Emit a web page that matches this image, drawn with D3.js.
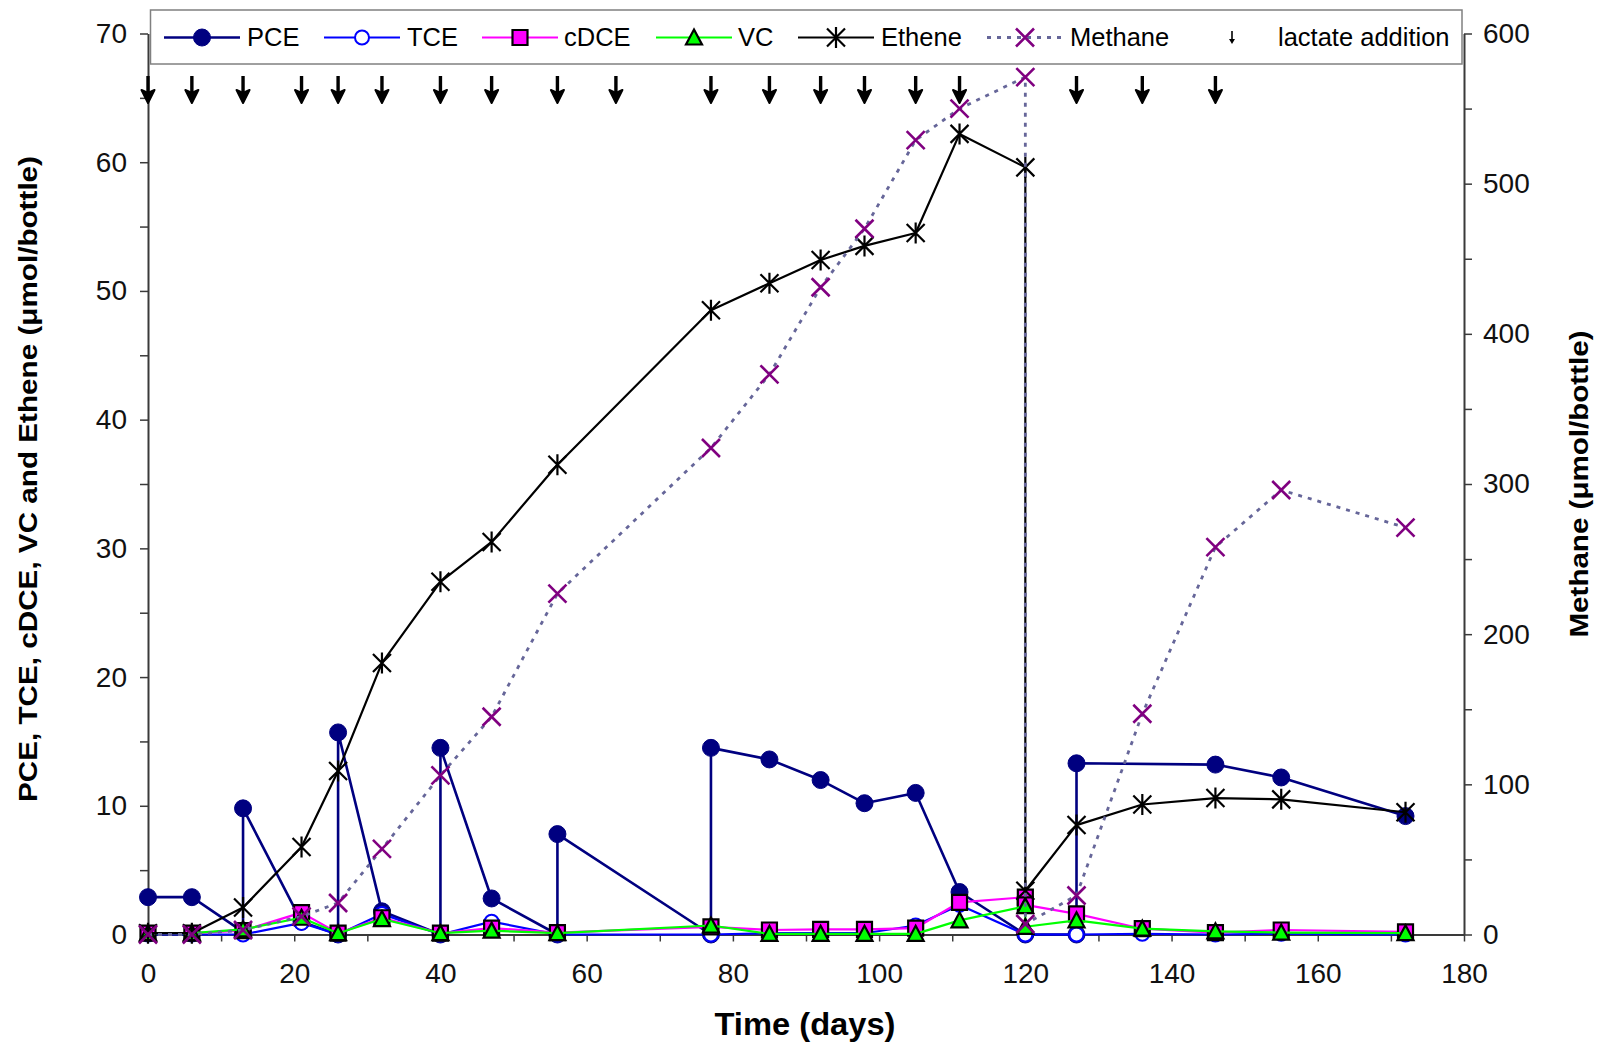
<!DOCTYPE html>
<html><head><meta charset="utf-8">
<script src="https://cdn.jsdelivr.net/npm/d3@7"></script>
<style>
html,body{margin:0;padding:0;background:#fff;}
svg{display:block;}
text{font-family:"Liberation Sans",Arial,Helvetica,sans-serif;}
</style></head>
<body>
<svg id="chart" width="1602" height="1047"></svg>
<script>
// ---------------- DATA ----------------
const pceDays   = [0,6,13,13,21,26,26,32,40,40,47,56,56,77,77,85,92,98,105,111,120,127,127,146,155,172];
const pceVals   = [2.9,2.9,0.2,9.8,1.0,0.0,15.7,1.8,0.0,14.5,2.8,0.0,7.8,0.0,14.5,13.6,12.0,10.2,11.0,3.3,0.0,0.0,13.3,13.2,12.2,9.2];

const tceDays   = [0,6,13,21,26,32,40,47,56,77,85,92,98,105,111,120,127,136,146,155,172];
const tceVals   = [0.0,0.0,0.0,0.9,0.0,1.6,0.0,1.0,0.0,0.0,0.1,0.1,0.1,0.7,2.3,0.0,0.0,0.05,0.0,0.05,0.0];

const dceDays   = [0,6,13,21,26,32,40,47,56,77,85,92,98,105,111,120,120,127,136,146,155,172];
const dceVals   = [0.1,0.1,0.3,1.7,0.1,1.3,0.1,0.5,0.15,0.6,0.35,0.4,0.4,0.5,2.5,2.9,2.3,1.6,0.45,0.15,0.35,0.2];

const vcDays    = [0,6,13,21,26,32,40,47,56,77,85,92,98,105,111,120,120,127,136,146,155,172];
const vcVals    = [0.1,0.1,0.4,1.3,0.1,1.2,0.1,0.3,0.1,0.7,0.05,0.05,0.05,0.05,1.1,2.2,0.6,1.1,0.45,0.25,0.15,0.1];

const ethDays   = [0,6,13,21,26,32,40,47,56,77,85,92,98,105,111,120,120,127,136,146,155,172];
const ethVals   = [0.1,0.1,2.1,6.8,12.7,21.1,27.4,30.5,36.5,48.5,50.6,52.4,53.5,54.5,62.2,59.6,3.4,8.5,10.1,10.6,10.5,9.5];

const ch4Days   = [0,6,13,21,26,32,40,47,56,77,85,92,98,105,111,120,120,127,136,146,155,172];
const ch4Vals   = [0,0,3,12,21,57,106,145,227,324,373,431,470,529,550,571,7,26,147,258,296,271];

const lactateDays = [0,6,13,21,26,32,40,47,56,64,77,85,92,98,105,111,127,136,146];

const xTicks      = [0,10,20,30,40,50,60,70,80,90,100,110,120,130,140,150,160,170,180];
const yLeftTicks  = [0,5,10,15,20,25,30,35,40,45,50,55,60,65,70];
const yRightTicks = [0,50,100,150,200,250,300,350,400,450,500,550,600];

const seriesNames = ["PCE","TCE","cDCE","VC","Ethene","Methane","lactate addition"];

// ---------------- LAYOUT ----------------
const svg = d3.select("#chart");
const L = 148, R = 1464, T = 33.5, B = 934.5;
const x  = d3.scaleLinear().domain([0,180]).range([L,R]);
const yL = d3.scaleLinear().domain([0,70]).range([B,T]);
const yR = d3.scaleLinear().domain([0,600]).range([B,T]);
const axisColor = "#3a3a3a";

function styleAxis(g){
  g.select(".domain").attr("stroke",axisColor).attr("stroke-width",2);
  g.selectAll(".tick line").attr("stroke",axisColor).attr("stroke-width",1.5);
  g.selectAll(".tick text").attr("fill","#111").attr("font-size",28)
    .attr("font-family",'"Liberation Sans",Arial,sans-serif');
}

svg.append("g").attr("transform",`translate(0,${B})`)
  .call(d3.axisBottom(x).tickValues(xTicks).tickFormat(d=>d%20===0?d:"").tickSize(7).tickSizeOuter(0).tickPadding(22))
  .call(styleAxis);
svg.append("g").attr("transform",`translate(${L},0)`)
  .call(d3.axisLeft(yL).tickValues(yLeftTicks).tickFormat(d=>d%10===0?d:"").tickSize(8).tickSizeOuter(0).tickPadding(13))
  .call(styleAxis);
svg.append("g").attr("transform",`translate(${R},0)`)
  .call(d3.axisRight(yR).tickValues(yRightTicks).tickFormat(d=>d%100===0?d:"").tickSize(8).tickSizeOuter(0).tickPadding(11))
  .call(styleAxis);

// axis titles
svg.append("text").attr("transform","translate(37,479) rotate(-90)")
  .attr("text-anchor","middle").attr("font-size",26).attr("font-weight","bold")
  .attr("textLength",646).attr("lengthAdjust","spacingAndGlyphs")
  .text("PCE, TCE, cDCE, VC and Ethene (\u03bcmol/bottle)");
svg.append("text").attr("transform","translate(1588,484) rotate(-90)")
  .attr("text-anchor","middle").attr("font-size",26).attr("font-weight","bold")
  .attr("textLength",307).attr("lengthAdjust","spacingAndGlyphs")
  .text("Methane (\u03bcmol/bottle)");
svg.append("text").attr("x",805).attr("y",1035)
  .attr("text-anchor","middle").attr("font-size",31).attr("font-weight","bold")
  .attr("textLength",181).attr("lengthAdjust","spacingAndGlyphs")
  .text("Time (days)");

// ---------------- MARKERS ----------------
const markerDefs = {
  circleFilled: g => g.append("circle").attr("r",8.5).attr("fill","#000080").attr("stroke","#000080").attr("stroke-width",1),
  circleOpen:   g => g.append("circle").attr("r",7).attr("fill","#fff").attr("stroke","#0000ff").attr("stroke-width",2),
  square:       g => g.append("path").attr("d","M-7.5,-7.5H7.5V7.5H-7.5Z").attr("fill","#ff00ff").attr("stroke","#000").attr("stroke-width",2.2),
  triangle:     g => g.append("path").attr("d","M0,-8L8,7L-8,7Z").attr("fill","#00ff00").attr("stroke","#000").attr("stroke-width",2.2).attr("stroke-linejoin","miter"),
  star:         g => g.append("path").attr("d","M-9,-9L9,9M-9,9L9,-9M0,-10.5V10.5").attr("fill","none").attr("stroke","#000").attr("stroke-width",2.2),
  cross:        g => g.append("path").attr("d","M-9,-9L9,9M-9,9L9,-9").attr("fill","none").attr("stroke","#800080").attr("stroke-width",2.6)
};

const series = [
  {name:seriesNames[0], days:pceDays, vals:pceVals, y:yL, color:"#000080", width:2.6, dash:null, marker:"circleFilled"},
  {name:seriesNames[1], days:tceDays, vals:tceVals, y:yL, color:"#0000ff", width:2.2, dash:null, marker:"circleOpen"},
  {name:seriesNames[2], days:dceDays, vals:dceVals, y:yL, color:"#ff00ff", width:2.2, dash:null, marker:"square"},
  {name:seriesNames[3], days:vcDays,  vals:vcVals,  y:yL, color:"#00ff00", width:2.2, dash:null, marker:"triangle"},
  {name:seriesNames[4], days:ethDays, vals:ethVals, y:yL, color:"#000000", width:2.2, dash:null, marker:"star"},
  {name:seriesNames[5], days:ch4Days, vals:ch4Vals, y:yR, color:"#666699", width:2.8, dash:"4,6", marker:"cross"}
];

const plot = svg.append("g");
series.forEach(s=>{
  const pts = s.days.map((d,i)=>[d,s.vals[i]]);
  const line = d3.line().x(p=>x(p[0])).y(p=>s.y(p[1]));
  const p = plot.append("path").datum(pts).attr("d",line).attr("fill","none")
    .attr("stroke",s.color).attr("stroke-width",s.width).attr("stroke-linejoin","round");
  if(s.dash) p.attr("stroke-dasharray",s.dash);
  const mg = plot.append("g");
  pts.forEach(pt=>{
    const g = mg.append("g").attr("transform",`translate(${x(pt[0])},${s.y(pt[1])})`);
    markerDefs[s.marker](g);
  });
});

// ---------------- LACTATE ARROWS ----------------
function arrow(g, len, head, hw){
  g.append("line").attr("x1",0).attr("x2",0).attr("y1",0).attr("y2",len-head+2)
    .attr("stroke","#000").attr("stroke-width",3.4);
  g.append("path").attr("d",`M${-hw},${len-head}L0,${len}L${hw},${len-head}L0,${len-head+3}Z`)
    .attr("fill","#000").attr("stroke","#000").attr("stroke-width",2).attr("stroke-linejoin","round");
}
const arrG = svg.append("g");
lactateDays.forEach(d=>{
  arrow(arrG.append("g").attr("transform",`translate(${x(d)},76)`), 27, 13, 6.5);
});

// ---------------- LEGEND ----------------
const leg = svg.append("g");
leg.append("rect").attr("x",150.5).attr("y",10).attr("width",1311.5).attr("height",54)
  .attr("fill","#fff").attr("stroke","#808080").attr("stroke-width",1.5);
const legY = 37.5;
const legLineX = [164,324,482,656,798,987];
const legTextX = [247,407,564,738,881,1070];
series.forEach((s,i)=>{
  const x0 = legLineX[i];
  const ln = leg.append("line").attr("x1",x0).attr("x2",x0+76).attr("y1",legY).attr("y2",legY)
    .attr("stroke",s.color).attr("stroke-width",s.width);
  if(s.dash) ln.attr("stroke-dasharray",s.dash);
  markerDefs[s.marker](leg.append("g").attr("transform",`translate(${x0+38},${legY})`));
  leg.append("text").attr("x",legTextX[i]).attr("y",legY).attr("dy","0.35em")
    .attr("font-size",25.5).attr("fill","#000").text(s.name);
});
// lactate legend
const la = leg.append("g").attr("transform",`translate(1232,31)`);
la.append("line").attr("x1",0).attr("x2",0).attr("y1",0).attr("y2",9).attr("stroke","#000").attr("stroke-width",1.6);
la.append("path").attr("d","M-3,8L0,13L3,8Z").attr("fill","#000");
leg.append("text").attr("x",1278).attr("y",legY).attr("dy","0.35em")
  .attr("font-size",25.5).attr("fill","#000").text(seriesNames[6]);
</script>
</body></html>
